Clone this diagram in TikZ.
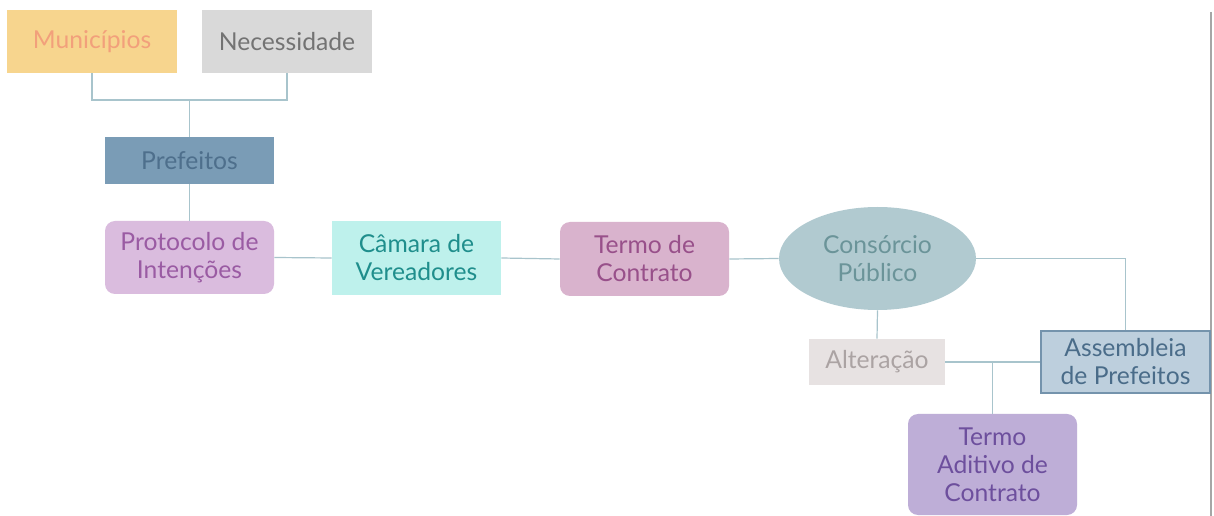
\documentclass[tikz,border=0pt]{standalone}
\usepackage{fontspec}
\setmainfont{Lato}
\usetikzlibrary{shapes.geometric}
\definecolor{linec}{HTML}{A8C4CC}
\definecolor{munF}{HTML}{F7D58E}\definecolor{munT}{HTML}{F2A07B}
\definecolor{necF}{HTML}{D9D9D9}\definecolor{necT}{HTML}{737373}
\definecolor{preF}{HTML}{7A9CB6}\definecolor{preT}{HTML}{4E6F8C}
\definecolor{proF}{HTML}{DABCDE}\definecolor{proT}{HTML}{9A5BA3}
\definecolor{camF}{HTML}{BEF1EC}\definecolor{camT}{HTML}{1F8E8C}
\definecolor{terF}{HTML}{D9B3CD}\definecolor{terT}{HTML}{98508A}
\definecolor{conF}{HTML}{B1CAD0}\definecolor{conT}{HTML}{6B9499}
\definecolor{altF}{HTML}{E7E2E2}\definecolor{altT}{HTML}{ABA3A3}
\definecolor{asmF}{HTML}{BDCFDD}\definecolor{asmD}{HTML}{7493AC}\definecolor{asmT}{HTML}{4A6C89}
\definecolor{tadF}{HTML}{BEAED7}\definecolor{tadT}{HTML}{6D4F9D}
\begin{document}
\begin{tikzpicture}[x=0.75pt,y=-0.75pt,
  box/.style={rectangle,inner sep=0pt,align=center,
    font=\fontsize{18.5pt}{21pt}\selectfont},
  rbox/.style={box,rounded corners=7.5pt},
  conn/.style={draw=linec,line width=0.9pt}]
\useasboundingbox (0,0) rectangle (1214,516);
\fill[white] (0,0) rectangle (1214,516);
\draw[line width=2pt,color=black!35] (1211,12) -- (1211,516);
% nodes
\node[box,fill=munF,text=munT,minimum width=127.5pt,minimum height=47.25pt] (mun) at (92,41.5) {Municípios};
\node[box,fill=necF,text=necT,minimum width=127.5pt,minimum height=47.25pt] (nec) at (287,41.5) {Necessidade};
\node[box,fill=preF,text=preT,minimum width=126.75pt,minimum height=35.25pt] (pre) at (189.5,160.5) {Prefeitos};
\node[rbox,fill=proF,text=proT,minimum width=126.75pt,minimum height=54.75pt] (pro) at (189.5,257.5) {Protocolo de\\Intenções};
\node[box,fill=camF,text=camT,minimum width=126.75pt,minimum height=55.5pt] (cam) at (416.5,258) {Câmara de\\Vereadores};
\node[rbox,fill=terF,text=terT,minimum width=126.75pt,minimum height=55.5pt] (ter) at (644.5,259) {Termo de\\Contrato};
\node[ellipse,inner sep=0pt,align=center,font=\fontsize{18.5pt}{21pt}\selectfont,fill=conF,text=conT,minimum width=147.75pt,minimum height=77.25pt] (con) at (877.5,258.5) {Consórcio\\Público};
\node[box,fill=altF,text=altT,minimum width=102pt,minimum height=34.5pt] (alt) at (877,362) {Alteração};
\node[box,fill=asmF,draw=asmD,line width=1pt,text=asmT,minimum width=126.75pt,minimum height=46.5pt] (asm) at (1125.5,362) {Assembleia\\de Prefeitos};
\node[rbox,fill=tadF,text=tadT,minimum width=126.75pt,minimum height=75.75pt] (tad) at (992.5,464.5) {Termo\\Aditivo de\\Contrato};
% connectors
\coordinate (j1) at (189.5,100);
\draw[conn] (mun.south) |- (nec.south |- j1) -- (nec.south);
\draw[conn] (j1) -- (pre.north);
\draw[conn] (pre.south) -- (pro.north);
\draw[conn] (pro.east) -- (cam.west);
\draw[conn] (cam.east) -- (ter.west);
\draw[conn] (ter.east) -- (con.west);
\draw[conn] (con.east) -| (asm.north);
\draw[conn] (con.south) -- (alt.north);
\draw[conn] (alt.east) -- (asm.west);
\coordinate (j2) at (tad.north |- alt.east);
\draw[conn] (j2) -- (tad.north);
\end{tikzpicture}
\end{document}
